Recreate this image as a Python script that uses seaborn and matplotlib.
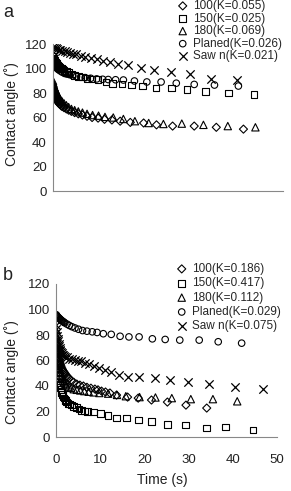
import pandas as pd
import seaborn as sns
import matplotlib.pyplot as plt

# ---------------------------------------------------------
# Panel a
# ---------------------------------------------------------
a100_t = [0, 0.1, 0.2, 0.3, 0.4, 0.5, 0.6, 0.7, 0.8, 0.9, 1.0, 1.15, 1.3, 1.45, 1.6, 1.8, 2.0, 2.4, 2.9,
          3.4, 4.0, 4.7, 5.5, 6.4, 7.4, 8.5, 9.8, 11.2, 12.8, 14.6, 16.8, 19.7, 22.5, 26.0, 30.7, 35.5, 41.4]
a100_y = [84, 82, 80.5, 79, 78, 77, 76, 75, 74.5, 74, 73.5, 72.5, 71.5, 71, 70.5, 69.5, 69, 68, 67,
          66, 65, 64, 63, 62, 61, 60, 59.5, 58.5, 58, 57, 56, 55.5, 54, 53, 53, 52, 50.5]

a150_t = [0, 0.1, 0.2, 0.3, 0.4, 0.5, 0.6, 0.7, 0.8, 0.9, 1.0, 1.15, 1.3, 1.45, 1.6, 1.8, 2.0, 2.4, 2.9,
          3.4, 4.0, 4.7, 5.5, 6.4, 7.4, 8.5, 9.8, 11.5, 13.0, 15.0, 17.1, 19.5, 22.4, 25.7, 29.1, 33.2, 38.2, 43.7]
a150_y = [110, 108.5, 107.5, 106.5, 105.5, 105, 104.5, 104, 103.5, 103, 102.5, 102, 101.5, 101, 100.5, 100, 99.5, 98.5, 97.5,
          96.5, 95.5, 94.5, 93.5, 93, 92, 91.5, 91, 89, 88, 87.3, 86.5, 85.7, 84, 84, 83, 81, 80, 79]

a180_t = [0, 0.1, 0.2, 0.3, 0.4, 0.5, 0.6, 0.7, 0.8, 0.9, 1.0, 1.15, 1.3, 1.45, 1.6, 1.8, 2.0, 2.4, 2.9,
          3.4, 4.0, 4.7, 5.5, 6.4, 7.4, 8.6, 9.9, 11.3, 13.1, 15.3, 17.8, 20.8, 24.0, 28.0, 32.7, 38.0, 44.0]
a180_y = [90, 88, 86.5, 85, 84, 83, 82, 81, 80, 79.5, 78.5, 77.5, 76.5, 75.5, 74.5, 73.5, 73, 71.5, 70,
          68.5, 67, 66, 65, 64, 63, 62, 61.5, 60.5, 60, 58.8, 57, 55.5, 54.7, 55, 54, 53, 52]

a_planed_t = [0, 0.3, 0.6, 0.9, 1.2, 1.6, 2.0, 2.5, 3.0, 3.6, 4.3, 5.1, 6.0, 7.0,
              8.2, 9.5, 10.8, 12.0, 13.6, 15.3, 17.7, 20.4, 23.5, 26.8, 30.7, 35.1, 40.3]
a_planed_y = [104, 102.5, 101, 100, 99, 98, 97, 96, 95.5, 95, 94, 93.5, 93, 92.5,
              92, 91.5, 91.2, 91, 90.8, 90.6, 89.8, 89, 89, 88, 87, 86.5, 85.7]

a_sawn_t = [0, 0.3, 0.6, 0.9, 1.2, 1.6, 2.0, 2.5, 3.0, 3.6, 4.3, 5.1, 6.0, 7.0,
            8.2, 9.5, 10.9, 12.4, 14.2, 16.3, 19.1, 22.0, 25.6, 29.7, 34.3, 40.0]
a_sawn_y = [117.5, 117, 116.5, 116, 115.5, 115, 114.5, 114, 113.5, 113, 112, 111.5, 110.5, 109.5,
            108.5, 107.5, 106.3, 105, 103.7, 102.8, 100.5, 98.8, 97.5, 95.5, 91.5, 90.6]

a_labels = ["100(K=0.055)", "150(K=0.025)", "180(K=0.069)", "Planed(K=0.026)", "Saw n(K=0.021)"]

# ---------------------------------------------------------
# Panel b
# ---------------------------------------------------------
b100_t = [0, 0.1, 0.2, 0.3, 0.4, 0.5, 0.6, 0.7, 0.8, 0.9, 1.0, 1.15, 1.3, 1.45, 1.6, 1.8, 2.0, 2.2, 2.4, 2.7,
          2.9, 3.4, 4.0, 4.7, 5.4, 6.2, 7.0, 7.9, 8.8, 9.5, 10.3, 11.2, 12.2, 13.7, 16.2, 18.6, 21.6, 25.2, 29.4, 34.1]
b100_y = [78, 75, 72, 69.5, 67, 65, 63, 61, 59.5, 58, 57, 55.5, 54, 53, 52, 51, 50, 49, 48, 47,
          46, 44.5, 43, 41.5, 40.7, 40, 39, 38.3, 37.6, 37, 36, 35.3, 34.5, 32.9, 31.3, 30.5, 29, 27.4, 25, 22.7]

b150_t = [0, 0.1, 0.2, 0.3, 0.4, 0.5, 0.6, 0.7, 0.8, 0.9, 1.0, 1.15, 1.3, 1.45, 1.6, 1.8, 2.0, 2.2, 2.4, 2.7,
          3.0, 3.5, 4.0, 4.6, 5.2, 5.8, 6.5, 7.2, 8.5, 10.0, 11.8, 13.7, 16.0, 18.6, 21.6, 25.3, 29.3, 34.1, 38.4, 44.6]
b150_y = [72, 67, 62, 58, 54.5, 51, 48, 45.5, 43, 41, 39, 37, 35, 33.5, 32, 30.5, 29.5, 28.5, 27.5, 26.5,
          26, 25, 24, 23, 22, 21, 20.5, 20, 19.6, 18.6, 17, 15, 14.9, 13.3, 12, 10, 9.4, 7, 7.8, 5.5]

b180_t = [0, 0.1, 0.2, 0.3, 0.4, 0.5, 0.6, 0.7, 0.8, 0.9, 1.0, 1.15, 1.3, 1.45, 1.6, 1.8, 2.0, 2.2, 2.4,
          2.9, 3.4, 4.0, 4.7, 5.5, 6.4, 7.4, 8.5, 9.8, 11.8, 13.8, 15.8, 18.9, 22.5, 26.2, 30.5, 35.5, 41.0]
b180_y = [84, 79, 74, 70, 66, 62.5, 59.5, 57, 54.5, 52.5, 50.5, 48.5, 47, 45.5, 44, 43, 42, 41.3, 40.5,
          39.5, 38.5, 37.5, 37, 36.5, 36, 35.5, 35, 34.5, 34, 33, 32, 31.3, 31, 30.5, 29.7, 29.7, 28]

b_planed_t = [0, 0.1, 0.2, 0.3, 0.45, 0.6, 0.75, 0.9, 1.05, 1.2, 1.4, 1.6, 1.8, 2.0, 2.5, 3.0, 3.6,
              4.3, 5.1, 6.0, 7.0, 8.2, 9.3, 10.7, 12.5, 14.5, 16.5, 18.8, 21.8, 24.7, 28.0, 32.4, 36.7, 42.0]
b_planed_y = [96, 95.5, 95, 94.5, 94, 93.5, 93, 92.5, 92, 91.5, 91, 90.5, 90, 89.5, 88.5, 87.5, 86.5,
              85.5, 84.5, 83.5, 83, 82.5, 82, 81, 80.5, 79, 78.5, 78.5, 77, 76.5, 76, 76, 74.7, 73.6]

b_sawn_t = [0, 0.1, 0.2, 0.3, 0.4, 0.5, 0.6, 0.7, 0.8, 0.9, 1.0, 1.15, 1.3, 1.45, 1.6, 1.8, 2.0, 2.5, 3.0,
            3.6, 4.3, 5.0, 5.7, 6.5, 7.5, 8.6, 9.8, 11.0, 12.5, 14.3, 16.3, 18.8, 22.3, 25.8, 29.9, 34.6, 40.5, 46.8]
b_sawn_y = [88, 85, 82, 79.5, 77, 75, 73, 71.5, 70, 68.5, 67.5, 66.5, 65.5, 64.5, 64, 63.5, 63, 62.5, 61.5,
            61, 60.5, 60, 59.5, 58, 57, 55.5, 54, 52.5, 51, 49, 47, 47, 46, 44.6, 43, 41.5, 39, 37.6]

b_labels = ["100(K=0.186)", "150(K=0.417)", "180(K=0.112)", "Planed(K=0.029)", "Saw n(K=0.075)"]

markers = ["D", "s", "^", "o", "x"]
sizes = [17, 23, 28, 22, 36]


def draw_panel(ax, series, labels):
    for (t, y), lab, m, s in zip(series, labels, markers, sizes):
        df = pd.DataFrame({"Time": t, "Angle": y})
        if m == "x":
            sns.scatterplot(data=df, x="Time", y="Angle", ax=ax, marker=m, s=s,
                            color="black", linewidth=0.9, label=lab)
        else:
            sns.scatterplot(data=df, x="Time", y="Angle", ax=ax, marker=m, s=s,
                            facecolor="none", edgecolor="black", linewidth=0.8, label=lab)
    ax.set_xlim(0, 50)
    ax.set_ylim(0, 120)
    ax.set_xticks([0, 10, 20, 30, 40, 50])
    ax.set_yticks([0, 20, 40, 60, 80, 100, 120])
    for side in ["top", "right"]:
        ax.spines[side].set_visible(False)
    for side in ["left", "bottom"]:
        ax.spines[side].set_color("#888888")
        ax.spines[side].set_linewidth(0.8)
    ax.tick_params(axis="both", direction="out", length=3, width=0.8, color="#888888",
                   labelsize=9.5, labelcolor="#222222", pad=1.5)
    ax.tick_params(axis="x", pad=9)
    ax.set_xlabel("")
    ax.set_ylabel("")
    ax.grid(False)


sns.set_theme(style="white")
plt.rcParams["font.family"] = ["Liberation Sans", "DejaVu Sans"]

fig = plt.figure(figsize=(2.91, 4.91), dpi=100)
ax_a = fig.add_axes([53 / 291, 1 - 191 / 491, 230 / 291, 147 / 491])
ax_b = fig.add_axes([56 / 291, 1 - 437 / 491, 221 / 291, 153 / 491])

draw_panel(ax_a, [(a100_t, a100_y), (a150_t, a150_y), (a180_t, a180_y),
                  (a_planed_t, a_planed_y), (a_sawn_t, a_sawn_y)], a_labels)
draw_panel(ax_b, [(b100_t, b100_y), (b150_t, b150_y), (b180_t, b180_y),
                  (b_planed_t, b_planed_y), (b_sawn_t, b_sawn_y)], b_labels)

ax_a.set_xticklabels([])

ax_a.legend(loc="upper left", bbox_to_anchor=(178 / 291, 1 - 0 / 491), bbox_transform=fig.transFigure,
            frameon=False, fontsize=8.5, handlelength=0.8, handletextpad=0.45,
            borderpad=0, borderaxespad=0, labelspacing=0.05)
ax_b.legend(loc="upper left", bbox_to_anchor=(177 / 291, 1 - 263 / 491), bbox_transform=fig.transFigure,
            frameon=False, fontsize=8.5, handlelength=0.8, handletextpad=0.45,
            borderpad=0, borderaxespad=0, labelspacing=0.2)

fig.text(3 / 291, 1 - 17 / 491, "a", fontsize=13, color="#222222")
fig.text(3 / 291, 1 - 280 / 491, "b", fontsize=13, color="#222222")

fig.text(12 / 291, 1 - 114 / 491, "Contact angle (˚)", rotation=90, ha="center", va="center",
         fontsize=10, color="#222222")
fig.text(12 / 291, 1 - 372 / 491, "Contact angle (˚)", rotation=90, ha="center", va="center",
         fontsize=10, color="#222222")
fig.text(162 / 291, 1 - 480 / 491, "Time (s)", ha="center", va="center",
         fontsize=10, color="#222222")

fig.savefig("out.png", dpi=100)
